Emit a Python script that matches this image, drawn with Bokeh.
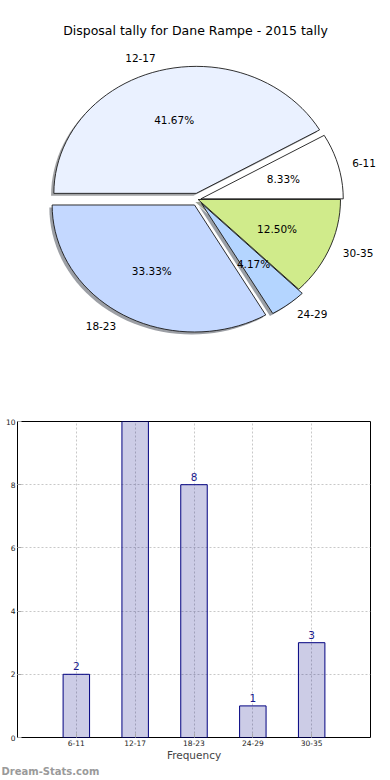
import math
from bokeh.plotting import figure
from bokeh.models import Range1d, Label, FixedTicker, ColumnDataSource, Title
from bokeh.core.properties import value
from bokeh.embed import file_html
from bokeh.resources import INLINE

# ---- data ----
categories = ["6-11", "12-17", "18-23", "24-29", "30-35"]
counts = [2, 10, 8, 1, 3]
explode = [0.02, 0.05, 0.05, 0.04, 0.0]
pie_colors = ["#ffffff", "#eaf1ff", "#c4d8ff", "#b4d5ff", "#d0eb8b"]
title_text = "Disposal tally for Dane Rampe - 2015 tally"
x_label = "Frequency"
y_ticks = [0, 2, 4, 6, 8, 10]
watermark = "Dream-Stats.com"

FONT = "DejaVu Sans"
W = 390
H1 = 390
H2 = 386

# ---- top: pie chart (data units == page pixels) ----
top = figure(width=W, height=H1, x_range=Range1d(0, W), y_range=Range1d(H1, 0),
             output_backend="svg", toolbar_location=None, min_border=0,
             min_border_left=0, min_border_right=0, min_border_top=0, min_border_bottom=0,
             x_axis_location=None, y_axis_location=None)
top.grid.visible = False
top.outline_line_color = None

cx, cy = 197.6, 199.0
rx, ry = 142.4, 127.0
shadow_dx, shadow_dy = -2.8, 2.5

total = float(sum(counts))
xs, ys, sxs, sys_, scol = [], [], [], [], []
pct_x, pct_y, pct_t = [], [], []
lab_x, lab_y, lab_t, lab_al = [], [], [], []
start = 0.0
for cat, c, ex, col in zip(categories, counts, explode, pie_colors):
    frac = c / total
    t1 = start
    t2 = start + 2 * math.pi * frac
    start = t2
    mid = (t1 + t2) / 2
    ox = ex * rx * math.cos(mid)
    oy = -ex * ry * math.sin(mid)
    n = max(4, int(120 * frac))
    px = [cx + ox]
    py = [cy + oy]
    for k in range(n + 1):
        t = t1 + (t2 - t1) * k / n
        px.append(cx + ox + rx * math.cos(t))
        py.append(cy + oy - ry * math.sin(t))
    xs.append(px)
    ys.append(py)
    sxs.append([v + shadow_dx for v in px])
    sys_.append([v + shadow_dy for v in py])
    r, g, b = int(col[1:3], 16), int(col[3:5], 16), int(col[5:7], 16)
    scol.append("#%02x%02x%02x" % (int(0.3 * r), int(0.3 * g), int(0.3 * b)))
    pct_x.append(cx + ox + 0.6 * rx * math.cos(mid))
    pct_y.append(cy + oy - 0.6 * ry * math.sin(mid))
    pct_t.append("%.2f%%" % (100 * frac))
    lab_x.append(cx + ox + 1.1 * rx * math.cos(mid))
    lab_y.append(cy + oy - 1.1 * ry * math.sin(mid))
    lab_t.append(cat)
    lab_al.append("left" if math.cos(mid) >= 0 else "right")

top.patches(xs=sxs, ys=sys_, fill_color=scol, fill_alpha=0.5, line_color=None)
top.patches(xs=xs, ys=ys, fill_color=pie_colors, line_color="#1a1a1a", line_width=0.9)
top.text(x=pct_x, y=pct_y, text=pct_t, text_align="center", text_baseline="middle",
         text_font=value(FONT), text_font_size="10.5px", text_color="black")
top.text(x=lab_x, y=lab_y, text=lab_t, text_align=lab_al, text_baseline="middle",
         text_font=value(FONT), text_font_size="10.5px", text_color="black")
top.text(x=[195], y=[30], text=[title_text], text_align="center", text_baseline="middle",
         text_font=value(FONT), text_font_size="12.5px", text_color="black")

# ---- bottom: bar chart ----
idx = list(range(len(categories)))
bot = figure(width=W, height=H2, x_range=Range1d(-1, 5), y_range=Range1d(0, 10),
             output_backend="svg", toolbar_location=None,
             min_border_left=17, min_border_right=20, min_border_top=31,
             min_border_bottom=4)
bot.outline_line_color = "black"
bot.outline_line_width = 1
bot.outline_line_alpha = 1

bot.xaxis.ticker = FixedTicker(ticks=idx)
bot.xaxis.major_label_overrides = {i: c for i, c in zip(idx, categories)}
bot.yaxis.ticker = FixedTicker(ticks=y_ticks)
for ax in (bot.xaxis, bot.yaxis):
    ax.axis_line_color = None
    ax.major_tick_out = 0
    ax.major_tick_in = 4
    ax.major_tick_line_color = "#aaaaaa"
    ax.minor_tick_line_color = None
    ax.major_label_text_font = FONT
    ax.major_label_text_font_size = "7.5px"
    ax.major_label_text_color = "#222222"
    ax.major_label_standoff = 2
bot.xaxis.axis_label = x_label
bot.xaxis.axis_label_text_font = FONT
bot.xaxis.axis_label_text_font_size = "10.5px"
bot.xaxis.axis_label_text_font_style = "normal"
bot.xaxis.axis_label_standoff = 0
bot.xgrid.ticker = FixedTicker(ticks=idx)
bot.ygrid.ticker = FixedTicker(ticks=y_ticks)
for gr in (bot.xgrid, bot.ygrid):
    gr.grid_line_color = "#c8c8c8"
    gr.grid_line_dash = "2 2"
    gr.grid_line_width = 1

src = ColumnDataSource(dict(x=idx, top=counts))
bot.vbar(x="x", top="top", width=0.45, source=src, fill_color="navy", fill_alpha=0.2,
         line_color="navy", line_width=1)
for i, c in zip(idx, counts):
    bot.add_layout(Label(x=i, y=c, text=str(c), text_align="center",
                         text_baseline="bottom", y_offset=4, text_font=FONT,
                         text_font_size="10.5px", text_color="#1a1a8c"))
bot.add_layout(Title(text=watermark, align="left", offset=-16, standoff=0,
                     text_font=FONT, text_font_size="10px", text_font_style="bold",
                     text_color="#9a9a9a"), "below")

open("out.html", "w").write(file_html([top, bot], INLINE))
